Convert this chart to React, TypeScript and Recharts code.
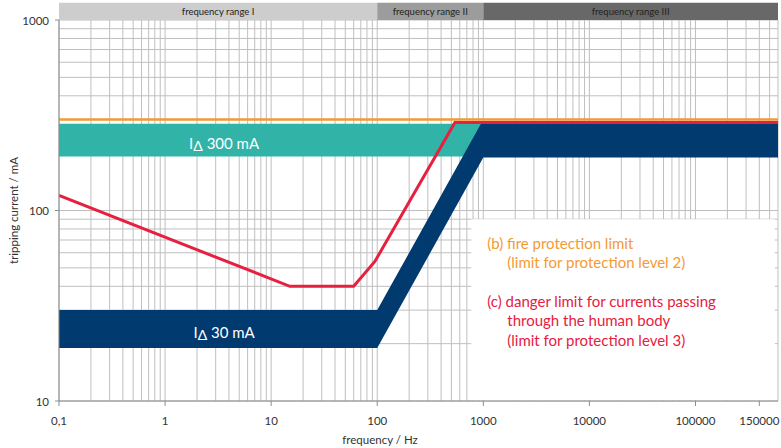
import React from "react";
import {
  Area,
  CartesianGrid,
  ComposedChart,
  Line,
  ReferenceArea,
  ReferenceDot,
  XAxis,
  YAxis,
} from "recharts";

// log-log axes: frequency in Hz, tripping current in mA
const MANTISSAS = [1, 2, 3, 4, 5, 6, 7, 8, 9];
const X_DECADES = [0.1, 1, 10, 100, 1000, 10000, 100000];
const Y_DECADES = [10, 100];
const X_MAX = 600000;

const xLabelValues = [0.1, 1, 10, 100, 1000, 10000, 100000, 400000];
const xLabelTexts = ["0,1", "1", "10", "100", "1000", "10000", "100000", "150000"];
const yLabelValues = [10, 100, 1000];

const xGridTicks = X_DECADES.flatMap((d) => MANTISSAS.map((m) => Number((m * d).toPrecision(3)))).filter((v) => v <= X_MAX);
const yGridTicks = [...Y_DECADES.flatMap((d) => MANTISSAS.map((m) => m * d)), 1000];

// (b) fire protection limit
const fireFreq = [0.1, 600000];
const fireCurrent = [300, 300];

// (c) danger limit for the human body
const dangerFreq = [0.1, 15, 60, 95, 540, 600000];
const dangerCurrent = [120, 40, 40, 54, 290, 290];

// IΔ 300 mA tripping band
const band300Freq = [0.1, 600000];
const band300Low = [192, 192];
const band300High = [285, 285];

// IΔ 30 mA tripping band
const band30Freq = [0.1, 100, 950, 1000, 600000];
const band30Low = [19, 19, 180, 190, 190];
const band30High = [30, 30, 285, 285, 285];

// frequency ranges shown in the strip above the plot
const rangeNames = ["frequency range I", "frequency range II", "frequency range III"];
const rangeFrom = [0.1, 100, 1000];
const rangeTo = [100, 1000, 600000];
const rangeFill = ["#cdcdcd", "#9c9c9c", "#686868"];

const fireData = fireFreq.map((f, i) => ({ f, i: fireCurrent[i] }));
const dangerData = dangerFreq.map((f, i) => ({ f, i: dangerCurrent[i] }));
const band300Data = band300Freq.map((f, i) => ({ f, band: [band300Low[i], band300High[i]] }));
const band30Data = band30Freq.map((f, i) => ({ f, band: [band30Low[i], band30High[i]] }));

const ORANGE = "#f39a35";
const RED = "#e6203f";
const TEAL = "#31b3a7";
const NAVY = "#003a6f";
const GRID = "#bfbfbf";
const AXIS = "#8c8c8c";
const TEXT = "#333";

function XTick({ x, y, payload }: any) {
  const idx = xLabelValues.indexOf(payload.value);
  if (idx < 0) return null;
  return (
    <g>
      <line x1={x} x2={x} y1={y} y2={y + 5} stroke={AXIS} />
      <text x={x} y={y + 19} textAnchor="middle" dominantBaseline="central" fontSize={11.5} fill={TEXT}>
        {xLabelTexts[idx]}
      </text>
    </g>
  );
}

function YTick({ x, y, payload }: any) {
  if (!yLabelValues.includes(payload.value)) return null;
  return (
    <g>
      <line x1={x - 4} x2={x} y1={y} y2={y} stroke={AXIS} />
      <text x={x - 10} y={y} textAnchor="end" dominantBaseline="central" fontSize={11.5} fill={TEXT}>
        {payload.value}
      </text>
    </g>
  );
}

function BandLabel({ viewBox, amps }: any) {
  const cx = viewBox.x + viewBox.width / 2;
  const cy = viewBox.y + viewBox.height / 2;
  return (
    <text x={cx} y={cy} textAnchor="middle" dominantBaseline="central" fill="#fff" fontSize={15}>
      <tspan>I</tspan>
      <tspan fontSize={14} dy={2}>Δ</tspan>
      <tspan dy={-2}>{` ${amps} mA`}</tspan>
    </text>
  );
}

function LegendText({ viewBox }: any) {
  const { x, y } = viewBox;
  return (
    <g fontSize={15}>
      <text x={x + 16} y={y + 24} dominantBaseline="central" fill={ORANGE}>(b) fire protection limit</text>
      <text x={x + 36} y={y + 43} dominantBaseline="central" fill={ORANGE}>(limit for protection level 2)</text>
      <text x={x + 16} y={y + 82} dominantBaseline="central" fill={RED}>(c) danger limit for currents passing</text>
      <text x={x + 36} y={y + 101} dominantBaseline="central" fill={RED}>through the human body</text>
      <text x={x + 36} y={y + 121} dominantBaseline="central" fill={RED}>(limit for protection level 3)</text>
    </g>
  );
}

export default function App() {
  return (
    <div
      style={{
        position: "absolute",
        left: 0,
        top: 0,
        width: 781,
        height: 448,
        background: "#fff",
        fontFamily: "Lato, 'Open Sans', sans-serif",
      }}
    >
      <ComposedChart width={781} height={448} margin={{ top: 20, right: 3, left: 0, bottom: 0 }}>
        <CartesianGrid stroke={GRID} strokeWidth={1} />
        <XAxis
          dataKey="f"
          type="number"
          scale="log"
          domain={[0.1, X_MAX]}
          ticks={xGridTicks}
          interval={0}
          allowDataOverflow
          height={47}
          tickSize={0}
          tickMargin={0}
          tickLine={false}
          axisLine={{ stroke: AXIS }}
          tick={<XTick />}
          label={({ viewBox }: any) => (
            <text x={380} y={viewBox.y + 38} textAnchor="middle" dominantBaseline="central" fontSize={11.5} fill={TEXT}>
              frequency / Hz
            </text>
          )}
        />
        <YAxis
          type="number"
          scale="log"
          domain={[10, 1000]}
          ticks={yGridTicks}
          interval={0}
          allowDataOverflow
          width={59}
          tickSize={0}
          tickMargin={0}
          tickLine={false}
          axisLine={{ stroke: AXIS }}
          tick={<YTick />}
          label={({ viewBox }: any) => {
            const cy = viewBox.y + viewBox.height / 2;
            return (
              <text x={13} y={cy} textAnchor="middle" dominantBaseline="central" fontSize={11.5} fill={TEXT} transform={`rotate(-90 13 ${cy})`}>
                tripping current / mA
              </text>
            );
          }}
        />

        {rangeNames.map((name, k) => (
          <ReferenceArea
            key={name}
            x1={rangeFrom[k]}
            x2={rangeTo[k]}
            y1={1000}
            y2={1230}
            ifOverflow="visible"
            fill={rangeFill[k]}
            fillOpacity={1}
            stroke="none"
            label={{ value: name, position: "center", fontSize: 9.5, fill: "#222" }}
          />
        ))}

        <Area data={band300Data} dataKey="band" stroke="none" fill={TEAL} fillOpacity={1} isAnimationActive={false} />
        <Area data={band30Data} dataKey="band" stroke="none" fill={NAVY} fillOpacity={1} isAnimationActive={false} />
        <Line data={fireData} dataKey="i" stroke={ORANGE} strokeWidth={2.5} dot={false} activeDot={false} isAnimationActive={false} />
        <Line data={dangerData} dataKey="i" stroke={RED} strokeWidth={3} dot={false} activeDot={false} isAnimationActive={false} />

        <ReferenceDot x={3.6} y={226} r={1} fill="none" stroke="none" label={(p: any) => <BandLabel viewBox={p.viewBox} amps={300} />} />
        <ReferenceDot x={3.6} y={22.9} r={1} fill="none" stroke="none" label={(p: any) => <BandLabel viewBox={p.viewBox} amps={30} />} />

        <ReferenceArea
          x1={770}
          x2={560000}
          y1={10.1}
          y2={90}
          fill="#fff"
          fillOpacity={1}
          stroke="none"
          label={(p: any) => <LegendText viewBox={p.viewBox} />}
        />
      </ComposedChart>
    </div>
  );
}
